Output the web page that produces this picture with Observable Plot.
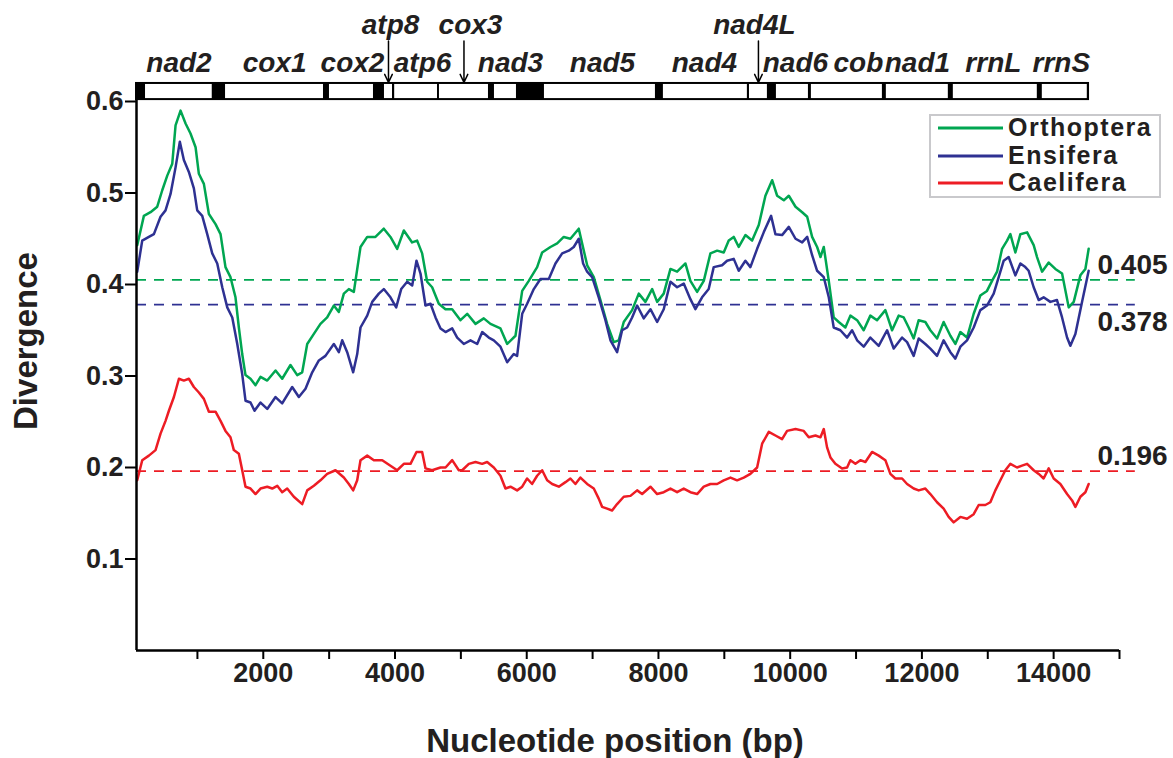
<!DOCTYPE html>
<html>
<head>
<meta charset="utf-8">
<script src="https://cdn.jsdelivr.net/npm/d3@7"></script>
<script src="https://cdn.jsdelivr.net/npm/@observablehq/plot@0.6"></script>
<style>
  body { margin: 0; background: #fff; font-family: "Liberation Sans", Arial, sans-serif; }
  #wrap { position: relative; width: 1173px; height: 758px; }
  #legend { position: absolute; left: 929px; top: 114px; width: 228px; height: 80px; border: 2px solid #c9c9cc; background: #fff; }
  .row { position: absolute; left: 0; width: 228px; height: 28px; }
  .row svg { position: absolute; left: 7px; top: 13px; display: block; }
  .row .lbl { position: absolute; display: block; left: 77px; top: 0; height: 28px; line-height: 28px; font-size: 25px; letter-spacing: 1.5px; font-weight: bold; color: #231f20; white-space: nowrap; }
</style>
</head>
<body>
<div id="wrap"></div>
<script>
// ---------------- data ----------------
const seriesNames = ["Orthoptera", "Ensifera", "Caelifera"];
const seriesColors = ["#00a651", "#2e3192", "#ed1c24"];
const meanValues = [0.405, 0.378, 0.196];

// [nucleotide position (bp), divergence]
const orthoptera = [
  [86,0.443],[187,0.475],[288,0.479],[390,0.485],[466,0.503],[542,0.519],[618,0.532],[668,0.574],[744,0.590],[820,0.576],
  [895,0.565],[972,0.550],[1022,0.521],[1098,0.510],[1174,0.477],[1275,0.466],[1351,0.455],[1426,0.419],[1502,0.408],[1578,0.386],
  [1629,0.353],[1680,0.324],[1730,0.301],[1806,0.297],[1882,0.290],[1958,0.299],[2060,0.295],[2186,0.306],[2287,0.297],[2413,0.312],
  [2515,0.301],[2591,0.304],[2667,0.335],[2768,0.346],[2868,0.357],[2970,0.364],[3071,0.377],[3147,0.370],[3223,0.390],[3299,0.395],
  [3375,0.392],[3476,0.441],[3578,0.452],[3703,0.452],[3830,0.461],[3931,0.452],[4033,0.439],[4134,0.459],[4260,0.446],[4336,0.448],
  [4412,0.434],[4488,0.403],[4564,0.397],[4665,0.379],[4766,0.373],[4868,0.373],[4994,0.361],[5096,0.368],[5222,0.357],[5348,0.363],
  [5449,0.357],[5601,0.352],[5703,0.335],[5829,0.344],[5931,0.393],[6031,0.404],[6158,0.419],[6234,0.435],[6360,0.441],[6462,0.445],
  [6562,0.452],[6663,0.450],[6790,0.461],[6866,0.437],[6918,0.421],[7018,0.408],[7119,0.383],[7221,0.357],[7321,0.337],[7397,0.339],
  [7473,0.359],[7600,0.372],[7701,0.390],[7802,0.381],[7904,0.395],[7980,0.381],[8080,0.390],[8182,0.417],[8283,0.414],[8409,0.423],
  [8485,0.404],[8587,0.392],[8688,0.404],[8789,0.434],[8891,0.437],[8991,0.435],[9067,0.448],[9143,0.452],[9219,0.441],[9320,0.454],
  [9422,0.448],[9523,0.465],[9624,0.497],[9726,0.514],[9802,0.497],[9903,0.492],[9979,0.497],[10081,0.485],[10182,0.479],[10258,0.474],
  [10333,0.452],[10409,0.441],[10460,0.430],[10510,0.441],[10586,0.404],[10661,0.364],[10737,0.359],[10838,0.353],[10914,0.366],[11016,0.361],
  [11116,0.350],[11217,0.366],[11319,0.361],[11445,0.372],[11547,0.350],[11648,0.366],[11724,0.364],[11799,0.353],[11875,0.341],[11951,0.361],
  [12052,0.359],[12128,0.350],[12230,0.341],[12330,0.359],[12432,0.344],[12508,0.335],[12584,0.348],[12685,0.342],[12786,0.368],[12887,0.388],
  [12988,0.393],[13065,0.404],[13141,0.414],[13217,0.439],[13293,0.448],[13343,0.455],[13419,0.435],[13495,0.455],[13597,0.457],[13697,0.443],
  [13748,0.430],[13824,0.414],[13925,0.424],[14026,0.417],[14128,0.412],[14229,0.375],[14305,0.381],[14406,0.410],[14482,0.417],[14532,0.439]
];
const ensifera = [
  [86,0.414],[162,0.448],[263,0.452],[339,0.455],[440,0.474],[516,0.481],[592,0.499],[668,0.528],[733,0.556],[794,0.536],
  [870,0.523],[946,0.505],[997,0.481],[1073,0.475],[1149,0.455],[1225,0.434],[1301,0.423],[1377,0.397],[1453,0.375],[1529,0.364],
  [1605,0.335],[1680,0.302],[1730,0.273],[1806,0.271],[1867,0.262],[1958,0.271],[2060,0.264],[2186,0.277],[2287,0.270],[2439,0.288],
  [2540,0.277],[2641,0.286],[2743,0.304],[2844,0.317],[2944,0.322],[3071,0.335],[3147,0.326],[3198,0.339],[3274,0.326],[3365,0.304],
  [3426,0.324],[3476,0.353],[3578,0.366],[3654,0.381],[3754,0.390],[3830,0.395],[3931,0.386],[4018,0.375],[4094,0.395],[4185,0.403],
  [4261,0.399],[4326,0.426],[4387,0.412],[4463,0.377],[4539,0.379],[4615,0.364],[4691,0.352],[4767,0.348],[4868,0.352],[4944,0.342],
  [5044,0.335],[5146,0.339],[5248,0.335],[5324,0.348],[5424,0.342],[5500,0.339],[5601,0.332],[5703,0.315],[5803,0.324],[5854,0.322],
  [5931,0.368],[6006,0.379],[6107,0.395],[6208,0.406],[6335,0.406],[6436,0.423],[6538,0.434],[6638,0.437],[6714,0.441],[6790,0.450],
  [6856,0.423],[6917,0.414],[6993,0.408],[7093,0.386],[7195,0.361],[7271,0.339],[7372,0.326],[7448,0.350],[7524,0.353],[7600,0.364],
  [7676,0.377],[7777,0.363],[7878,0.373],[7980,0.359],[8080,0.373],[8182,0.403],[8283,0.397],[8384,0.401],[8485,0.384],[8561,0.373],
  [8662,0.386],[8763,0.395],[8839,0.419],[8966,0.421],[9042,0.426],[9143,0.428],[9219,0.415],[9320,0.426],[9396,0.419],[9498,0.439],
  [9598,0.457],[9710,0.475],[9776,0.455],[9877,0.454],[9979,0.463],[10081,0.450],[10182,0.446],[10258,0.452],[10333,0.432],[10409,0.415],
  [10510,0.408],[10586,0.386],[10661,0.353],[10762,0.350],[10864,0.342],[10940,0.350],[11016,0.339],[11116,0.332],[11217,0.342],[11344,0.333],
  [11471,0.350],[11572,0.330],[11699,0.342],[11775,0.337],[11875,0.322],[11951,0.341],[12052,0.335],[12128,0.330],[12230,0.322],[12330,0.339],
  [12432,0.326],[12508,0.319],[12584,0.332],[12685,0.339],[12786,0.353],[12887,0.372],[12988,0.377],[13090,0.390],[13166,0.408],[13242,0.426],
  [13317,0.430],[13419,0.410],[13495,0.423],[13570,0.419],[13621,0.415],[13697,0.397],[13773,0.383],[13848,0.386],[13950,0.381],[14051,0.383],
  [14128,0.364],[14204,0.342],[14254,0.333],[14330,0.346],[14431,0.381],[14532,0.415]
];
const caelifera = [
  [86,0.186],[162,0.208],[263,0.213],[364,0.219],[440,0.237],[516,0.251],[567,0.262],[643,0.277],[719,0.297],[794,0.295],
  [870,0.297],[946,0.288],[1022,0.282],[1098,0.275],[1174,0.261],[1275,0.261],[1351,0.251],[1426,0.240],[1502,0.233],[1553,0.219],
  [1629,0.215],[1680,0.197],[1730,0.179],[1806,0.177],[1882,0.171],[1958,0.177],[2060,0.179],[2136,0.177],[2212,0.180],[2287,0.173],
  [2363,0.177],[2464,0.168],[2591,0.160],[2667,0.175],[2768,0.180],[2868,0.186],[2970,0.193],[3096,0.197],[3223,0.189],[3299,0.182],
  [3365,0.175],[3426,0.186],[3476,0.208],[3578,0.213],[3679,0.208],[3806,0.208],[3931,0.202],[4033,0.197],[4134,0.204],[4235,0.204],
  [4326,0.217],[4412,0.217],[4463,0.199],[4564,0.197],[4691,0.200],[4767,0.200],[4868,0.208],[4969,0.197],[5020,0.197],[5121,0.204],
  [5222,0.206],[5323,0.204],[5399,0.206],[5500,0.200],[5601,0.191],[5677,0.177],[5753,0.179],[5854,0.175],[5931,0.179],[6006,0.188],
  [6082,0.182],[6158,0.191],[6234,0.197],[6310,0.186],[6386,0.182],[6487,0.179],[6588,0.184],[6663,0.188],[6739,0.182],[6815,0.189],
  [6917,0.182],[7018,0.177],[7093,0.166],[7144,0.157],[7221,0.155],[7296,0.153],[7372,0.160],[7473,0.168],[7575,0.169],[7676,0.175],
  [7752,0.171],[7878,0.179],[7980,0.171],[8080,0.173],[8182,0.177],[8283,0.173],[8384,0.177],[8485,0.173],[8587,0.171],[8688,0.179],
  [8789,0.182],[8891,0.182],[8991,0.186],[9093,0.189],[9194,0.186],[9295,0.189],[9396,0.193],[9498,0.200],[9574,0.226],[9675,0.239],
  [9776,0.235],[9877,0.231],[9953,0.240],[10081,0.242],[10206,0.240],[10282,0.233],[10384,0.235],[10460,0.233],[10510,0.242],[10560,0.222],
  [10611,0.211],[10686,0.204],[10788,0.199],[10864,0.200],[10914,0.208],[10990,0.204],[11066,0.208],[11142,0.206],[11243,0.217],[11344,0.213],
  [11445,0.208],[11521,0.193],[11597,0.188],[11699,0.188],[11775,0.182],[11875,0.177],[11951,0.175],[12052,0.177],[12128,0.171],[12230,0.162],
  [12330,0.155],[12406,0.146],[12482,0.140],[12584,0.146],[12685,0.144],[12786,0.149],[12862,0.159],[12963,0.159],[13039,0.162],[13115,0.175],
  [13191,0.186],[13267,0.197],[13343,0.204],[13444,0.200],[13520,0.202],[13597,0.204],[13697,0.197],[13773,0.193],[13848,0.188],[13925,0.199],
  [14001,0.188],[14102,0.182],[14204,0.171],[14280,0.164],[14330,0.157],[14406,0.168],[14482,0.173],[14532,0.182]
];

// gene map (bp)
const geneNames  = ["nad2","cox1","cox2","atp8","atp6","cox3","nad3","nad5","nad4","nad4L","nad6","cob","nad1","rrnL","rrnS"];
const geneStarts = [212,1427,3005,3840,3995,4675,5510,6269,8075,9382,9791,10322,11460,12477,13828];
const geneEnds   = [1225,2914,3673,3962,4645,5419,5844,7954,9350,9654,10277,11400,12401,13752,14511];
const geneLabelAt = [720,2171,3354,3932,4418,5146,5753,7150,8698,9457,10079,11036,11932,13085,14117];
const raisedGenes = ["atp8","cox3","nad4L"];
const genomeSpan = [60, 14545];

const xDomain = [75, 15000];
const yDomain = [0, 0.6];
const xTicks = d3.range(1000, 15001, 1000);
const yTicks = [0.1, 0.2, 0.3, 0.4, 0.5, 0.6];
const xLabel = "Nucleotide position (bp)";
const yLabel = "Divergence";

// ---------------- build ----------------
const seriesData = [orthoptera, ensifera, caelifera];
const lineRows = seriesData.flatMap((s, i) => s.map(([x, y]) => ({series: seriesNames[i], x, y})));
const means = meanValues.map((v, i) => ({series: seriesNames[i], v}));
const genes = geneNames.map((name, i) => ({
  name, start: geneStarts[i], end: geneEnds[i], label: geneLabelAt[i],
  mid: (geneStarts[i] + geneEnds[i]) / 2, raised: raisedGenes.includes(name)
}));

const colorOf = Object.fromEntries(seriesNames.map((n, i) => [n, seriesColors[i]]));
const FONT = "'Liberation Sans', Arial, Helvetica, sans-serif";
const TXT = "#231f20";

// vertical layout of the gene map above the frame (in y-scale units)
const barLo = 0.601, barHi = 0.6208, labelY = 0.6317, raisedY = 0.6743, arrowTop = 0.666;
const dashEnd = xDomain[1] * 1.016;

const chart = Plot.plot({
  width: 1173,
  height: 758,
  marginLeft: 136,
  marginRight: 54,
  marginTop: 101,
  marginBottom: 108,
  x: {domain: xDomain, axis: null},
  y: {domain: yDomain, axis: null},
  style: {fontFamily: FONT, background: "#fff", overflow: "visible", color: TXT},
  marks: [
    // mean lines
    Plot.ruleY(means, {y: "v", x1: xDomain[0], x2: dashEnd, stroke: d => colorOf[d.series], strokeWidth: 1.8, strokeDasharray: "10,8"}),
    // series lines
    Plot.line(lineRows, {x: "x", y: "y", z: "series", stroke: d => colorOf[d.series], strokeWidth: 2.5, strokeLinejoin: "round"}),
    // axes lines
    Plot.ruleX([xDomain[0]], {y1: yDomain[0], y2: barLo, stroke: "#000", strokeWidth: 2.5}),
    Plot.ruleY([yDomain[0]], {x1: xDomain[0], x2: xDomain[1], stroke: "#000", strokeWidth: 2.5}),
    Plot.axisY({ticks: yTicks, tickSize: 11, tickPadding: 2, tickFormat: d3.format(".1f"), anchor: "left", label: null,
      fontSize: 27, fontWeight: "bold", strokeWidth: 2, stroke: "#000", fill: TXT}),
    Plot.axisX({ticks: xTicks, tickSize: 9, tickPadding: 3, anchor: "bottom", label: null,
      tickFormat: d => (d % 2000 === 0 ? String(d) : ""),
      fontSize: 27, fontWeight: "bold", strokeWidth: 2, stroke: "#000", fill: TXT}),
    // axis titles
    Plot.text([yLabel], {frameAnchor: "left", dx: -110, dy: -35, rotate: -90, textAnchor: "middle", lineAnchor: "middle",
      fontSize: 33, fontWeight: "bold", fill: TXT}),
    Plot.text([xLabel], {frameAnchor: "bottom", dx: -13, dy: 101, textAnchor: "middle", lineAnchor: "bottom",
      fontSize: 33, fontWeight: "bold", fill: TXT}),
    // mean labels
    Plot.text(means.filter(d => d.series !== "Ensifera"), {x: xDomain[1], y: "v", text: d => d3.format(".3f")(d.v),
      textAnchor: "start", lineAnchor: "bottom", dx: -22, dy: -6, fontSize: 28, fontWeight: "bold", fill: TXT}),
    Plot.text(means.filter(d => d.series === "Ensifera"), {x: xDomain[1], y: "v", text: d => d3.format(".3f")(d.v),
      textAnchor: "start", lineAnchor: "top", dx: -22, dy: 6, fontSize: 28, fontWeight: "bold", fill: TXT}),
    // gene map
    Plot.rect([genomeSpan], {x1: d => d[0], x2: d => d[1], y1: barLo, y2: barHi, fill: "#000"}),
    Plot.rect(genes, {x1: "start", x2: "end", y1: barLo, y2: barHi, fill: "#fff", insetTop: 2, insetBottom: 2}),
    Plot.text(genes.filter(d => !d.raised), {x: "label", y: labelY, text: "name", lineAnchor: "bottom",
      fontSize: 28, fontWeight: "bold", fontStyle: "italic", fill: TXT}),
    Plot.text(genes.filter(d => d.raised), {x: "label", y: raisedY, text: "name", lineAnchor: "bottom",
      fontSize: 28, fontWeight: "bold", fontStyle: "italic", fill: TXT}),
    Plot.arrow(genes.filter(d => d.raised), {x1: "mid", x2: "mid", y1: arrowTop, y2: barHi, stroke: "#000",
      strokeWidth: 1.5, headLength: 9, headAngle: 50})
  ]
});

const wrap = document.getElementById("wrap");
wrap.appendChild(chart);

// legend
const legend = document.createElement("div");
legend.id = "legend";
seriesNames.forEach((name, i) => {
  const row = document.createElement("div");
  row.className = "row";
  row.style.top = (-3 + 27.5 * i) + "px";
  row.innerHTML = `<svg width="65" height="4"><line x1="0" x2="65" y1="2" y2="2" stroke="${seriesColors[i]}" stroke-width="3"/></svg><div class="lbl">${name}</div>`;
  legend.appendChild(row);
});
wrap.appendChild(legend);
</script>
</body>
</html>
